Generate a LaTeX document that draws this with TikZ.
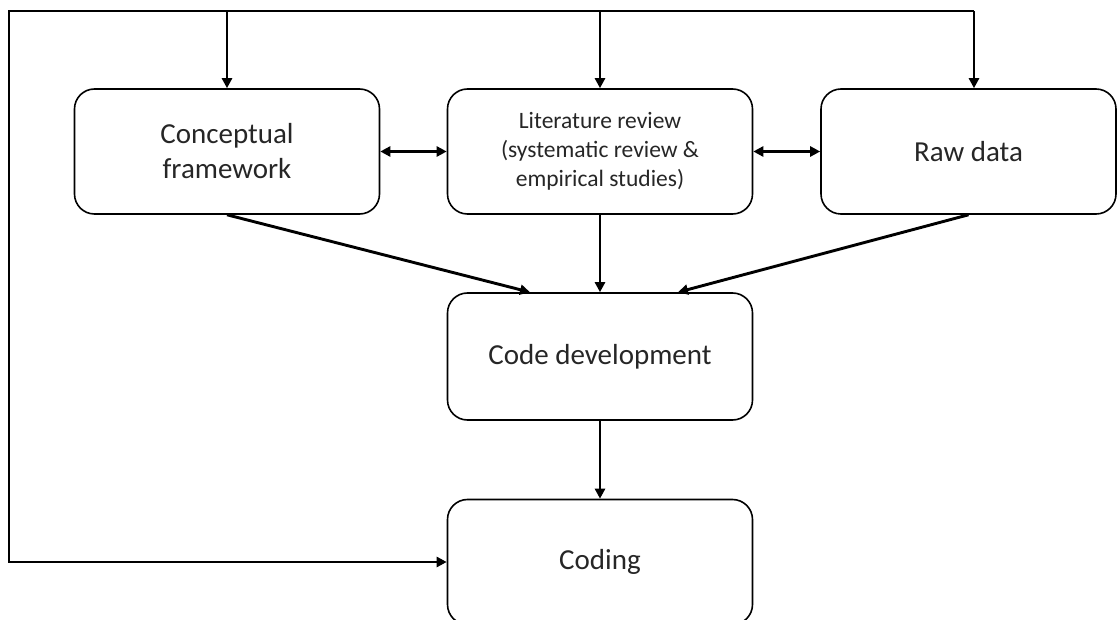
\documentclass[tikz,border=0pt]{standalone}
\usepackage{fontspec}
\setmainfont{Carlito}
\usetikzlibrary{arrows.meta}

\begin{document}
\begin{tikzpicture}[
	x = 1pt, y = -1pt,
	box/.style = {draw, line width = 1.6pt, rounded corners = 20pt, minimum width = 305pt, minimum height = 125pt, align = center, text = black!85, font = \fontsize{29}{35}\selectfont},
	flow/.style = {-{Triangle[length = 10pt, width = 10pt]}, line width = 2.9pt},
	both/.style = {{Triangle[length = 10pt, width = 10pt]}-{Triangle[length = 10pt, width = 10pt]}, line width = 2.9pt}
	]

	\useasboundingbox (0,0) rectangle (1117,620);

	\node[box] (concept) at (227,151.5) {Conceptual\\framework};
	\node[box, font = \fontsize{23.5}{29}\selectfont] (litrev) at (600,151.5) {Literature review\\(systematic review \&\\empirical studies)};
	\node[box, minimum width = 295pt] (rawdata) at (968.5,151.5) {Raw data};
	\node[box, minimum height = 127pt] (codedev) at (600,356.5) {Code development};
	\node[box] (coding) at (600,562) {Coding};

	% feedback loop round the top
	\coordinate (topleft) at (9,11);
	\coordinate (botleft) at (9,562);
	\coordinate (topright) at (974,11);

	\draw[flow, line join = miter] (topright) -- (topleft) -- (botleft) -- (coding.west);
	\draw[flow] (concept.north |- topleft) -- (concept.north);
	\draw[flow] (litrev.north |- topleft) -- (litrev.north);
	\draw[flow] (topright) -- (topright |- rawdata.north);

	\draw[both] (concept.east) -- (litrev.west);
	\draw[both] (litrev.east) -- (rawdata.west);

	\draw[flow] (concept.south) -- ([xshift = -70pt]codedev.north);
	\draw[flow] (litrev.south) -- (codedev.north);
	\draw[flow] (rawdata.south) -- ([xshift = 78pt]codedev.north);
	\draw[flow] (codedev.south) -- (coding.north);

\end{tikzpicture}
\end{document}
